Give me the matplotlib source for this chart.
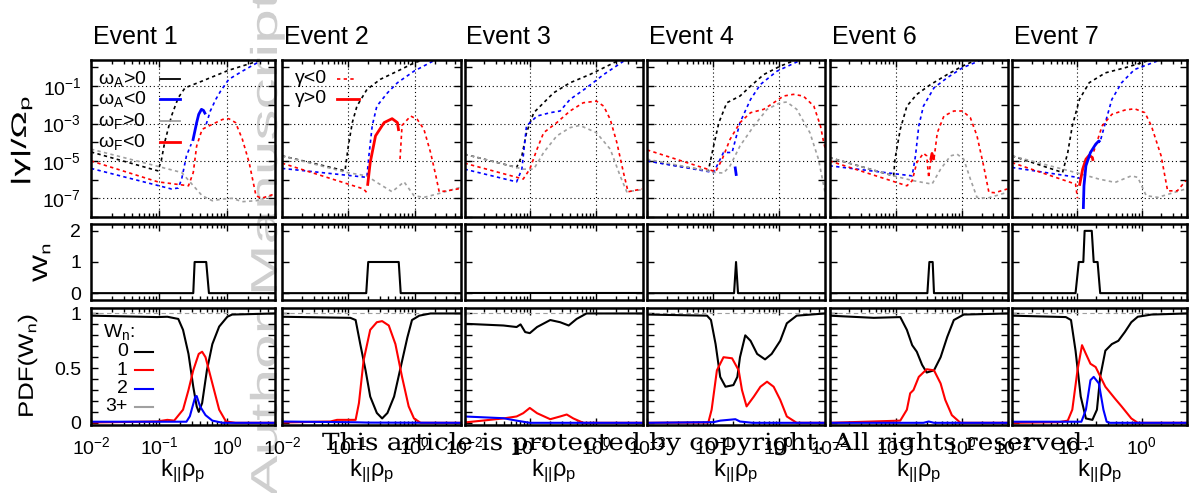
import numpy as np
import matplotlib.pyplot as plt
from matplotlib.ticker import FixedLocator, FuncFormatter, NullFormatter, LogLocator, MultipleLocator
from matplotlib.transforms import Affine2D
from matplotlib.patheffects import AbstractPathEffect

plt.rcParams['font.family'] = ['Liberation Sans', 'DejaVu Sans']
plt.rcParams['mathtext.fontset'] = 'custom'
plt.rcParams['mathtext.rm'] = 'Liberation Sans'
plt.rcParams['mathtext.it'] = 'Liberation Sans'
plt.rcParams['mathtext.default'] = 'regular'

titles = ['Event 1', 'Event 2', 'Event 3', 'Event 4', 'Event 6', 'Event 7']

# |gamma|/Omega_p, pieces of (log10 k rho, log10 |gamma|)
# black: omega_A>0, blue: omega_A<0, gray: omega_F>0, red: omega_F<0 ; grow_* = gamma>0
e1_black = [([-2, -1.02, -0.97, -0.92, -0.82, -0.72, -0.62, -0.37, 0.02, 0.52],
             [-4.52, -5.53, -5.0, -4.02, -2.6, -1.62, -1.09, -0.73, -0.15, 0.42])]
e1_blue = [([-2, -0.82, -0.72, -0.67, -0.6, -0.53], [-5.4, -6.5, -6.45, -5.97, -4.73, -4.1]),
           ([-0.31, -0.25, -0.17, -0.1, 0.02, 0.22, 0.52], [-3.04, -2.33, -1.71, -1.27, -0.64, -0.2, 0.42])]
e1_gray = [([-2, -0.67, -0.52, -0.37, -0.22, -0.07, 0.07, 0.22, 0.42, 0.62, 0.75],
            [-4.37, -5.62, -6.24, -6.86, -7.13, -7.04, -7.0, -7.18, -7.13, -6.9, -6.8])]
e1_red = [([-2, -1.02, -0.57, -0.5, -0.45, -0.37, -0.22, -0.07, 0.02, 0.12, 0.22, 0.32, 0.42, 0.5, 0.75],
           [-5.0, -6.12, -6.33, -5.62, -4.2, -3.31, -3.04, -2.78, -2.74, -2.95, -3.84, -5.09, -6.86, -7.0, -6.7])]
e1_grow_blue = [([-0.507, -0.45, -0.42, -0.38, -0.35, -0.32], [-3.93, -2.95, -2.51, -2.24, -2.3, -2.51])]
e1_grow_red = []

e2_black = [([-2, -1.05, -1.0, -0.94, -0.87, -0.72, -0.52, -0.26, -0.01, 0.14],
             [-4.73, -5.53, -4.2, -2.95, -2.07, -1.18, -0.64, -0.2, 0.24, 0.42])]
e2_blue = [([-2, -0.72, -0.69, -0.64, -0.57, -0.41, -0.26, -0.01, 0.32],
            [-5.4, -5.88, -4.73, -3.13, -2.07, -1.36, -0.82, -0.2, 0.42])]
e2_gray = [([-2, -1.02, -0.72, -0.57, -0.34, -0.16, -0.01, 0.14, 0.34, 0.7],
            [-4.73, -5.62, -5.8, -6.15, -6.65, -6.12, -6.86, -6.95, -6.77, -6.4])]
e2_red = [([-2, -0.77, -0.72], [-5.12, -6.5, -6.7]),
          ([-0.22, -0.19, -0.06, 0.04, 0.14, 0.24, 0.32, 0.37, 0.49, 0.7],
           [-4.9, -3.1, -2.6, -2.78, -3.31, -4.55, -5.8, -6.65, -6.6, -6.47])]
e2_grow_blue = []
e2_grow_red = [([-0.71, -0.67, -0.59, -0.46, -0.34, -0.26, -0.24], [-6.33, -5.09, -3.66, -2.95, -2.74, -2.95, -3.4])]

e3_black = [([-2, -1.21, -1.13, -1.06, -0.95, -0.8, -0.65, -0.4, -0.1, 0.11, 0.31],
             [-4.64, -5.35, -4.73, -3.49, -2.42, -1.89, -1.36, -0.82, -0.38, -0.02, 0.33])]
e3_blue = [([-2, -1.21, -1.13, -1.06, -0.9, -0.7, -0.55, -0.4, -0.15, 0.11, 0.41],
            [-5.44, -6.12, -5.44, -3.13, -2.6, -2.42, -2.33, -1.71, -1.09, -0.38, 0.33])]
e3_gray = [([-2, -1.11, -0.95, -0.8, -0.6, -0.4, -0.25, 0, 0.21, 0.36, 0.46, 0.69],
            [-4.64, -5.44, -5.44, -4.55, -3.66, -3.22, -3.1, -3.49, -4.37, -5.8, -6.65, -6.54])]
e3_red = [([-2, -1.11, -1.01, -0.9, -0.8, -0.6, -0.4, -0.2, 0, 0.11, 0.21, 0.31, 0.41, 0.48, 0.69],
           [-5.12, -5.97, -5.44, -4.37, -3.49, -2.95, -2.33, -1.89, -1.8, -2.07, -2.78, -4.02, -5.62, -6.65, -6.5])]
e3_grow_blue = []
e3_grow_red = []

e4_black = [([-2, -1.07, -0.99, -0.91, -0.79, -0.59, -0.43, -0.23, 0.02, 0.27],
             [-5.0, -5.53, -4.2, -2.95, -1.89, -1.53, -1.0, -0.38, 0.07, 0.42])]
e4_blue = [([-2, -0.99, -0.84, -0.71, -0.59, -0.43, -0.28, -0.03, 0.35],
            [-5.0, -5.62, -4.55, -4.55, -2.95, -1.71, -0.91, -0.2, 0.42])]
e4_gray = [([-2, -0.96, -0.84, -0.74, -0.59, -0.38, -0.18, 0.02, 0.12, 0.27, 0.47, 0.6, 0.68, 0.7],
            [-4.91, -5.62, -5.65, -5.26, -4.2, -3.13, -2.24, -1.89, -1.85, -2.24, -3.49, -4.91, -6.33, -6.7])]
e4_red = [([-2, -0.96, -0.86, -0.74, -0.59, -0.43, -0.23, -0.08, 0.07, 0.22, 0.37, 0.53, 0.63, 0.68, 0.7],
           [-4.41, -5.58, -4.91, -3.84, -2.95, -2.42, -2.24, -1.89, -1.53, -1.44, -1.53, -2.07, -3.13, -4.02, -4.3])]
e4_grow_blue = [([-0.665, -0.645], [-5.3, -5.8])]
e4_grow_red = []

e6_black = [([-2, -1.03, -1.01, -0.93, -0.83, -0.68, -0.47, -0.22, 0.01, 0.23],
             [-4.82, -5.8, -4.91, -3.31, -2.07, -1.44, -0.91, -0.38, 0.07, 0.42])]
e6_blue = [([-2, -0.75, -0.7, -0.65, -0.58, -0.42, -0.22, 0.01, 0.31],
            [-5.26, -5.8, -4.73, -3.13, -2.07, -1.09, -0.55, -0.02, 0.42])]
e6_gray = [([-2, -1.03, -0.73, -0.45, -0.32, -0.17, -0.07, 0.03, 0.13, 0.23, 0.38, 0.69],
            [-4.82, -5.8, -6.06, -6.24, -5.44, -4.73, -4.64, -4.91, -5.97, -6.95, -7.0, -6.68])]
e6_red = [([-2, -0.83, -0.75, -0.68, -0.58, -0.53, -0.5, -0.47, -0.42, -0.37, -0.27, -0.12, 0.01, 0.13, 0.23, 0.33, 0.41, 0.5, 0.69],
           [-5.0, -6.33, -6.06, -5.09, -4.59, -4.73, -5.9, -5.0, -4.9, -3.49, -2.6, -2.33, -2.33, -2.69, -3.66, -5.26, -6.68, -6.7, -6.5])]
e6_grow_blue = []
e6_grow_red = [([-0.47, -0.45, -0.42], [-4.95, -4.6, -4.95])]

e7_black = [([-2, -1.22, -1.14, -1.07, -0.96, -0.81, -0.56, -0.26, -0.01, 0.15],
             [-4.73, -5.62, -4.55, -3.13, -1.71, -0.82, -0.29, -0.02, 0.24, 0.42])]
e7_blue = [([-2, -0.99, -0.92], [-5.35, -5.88, -6.0]),
           ([-0.63, -0.56, -0.46, -0.31, -0.11, 0.3], [-3.84, -2.95, -1.71, -0.82, -0.11, 0.42])]
e7_gray = [([-2, -1.02, -0.66, -0.41, -0.16, -0.06, 0.07, 0.25, 0.68],
            [-4.73, -5.62, -5.97, -6.15, -5.8, -5.88, -6.86, -6.95, -6.5])]
e7_red = [([-2, -1.02, -0.99], [-5.09, -6.24, -7.0]),
          ([-0.74, -0.71, -0.61, -0.46, -0.26, -0.11, 0.05, 0.15, 0.3, 0.4, 0.55, 0.68],
           [-4.5, -4.2, -3.13, -2.51, -2.28, -2.21, -2.42, -3.13, -4.73, -6.6, -6.6, -6.06])]
e7_grow_blue = [([-0.9, -0.89, -0.86, -0.79, -0.71, -0.66, -0.64], [-7.57, -6.33, -5.26, -4.55, -4.11, -3.93, -4.0])]
e7_grow_red = [([-0.96, -0.91, -0.86, -0.81, -0.76, -0.75], [-6.33, -5.44, -4.91, -4.7, -4.82, -5.0])]

# W_n against log10 k
e1_wn = ([-2, -0.5, -0.48, -0.31, -0.27, 0.7], [0, 0, 1, 1, 0, 0])
e2_wn = ([-2, -0.73, -0.70, -0.24, -0.21, 0.7], [0, 0, 1, 1, 0, 0])
e3_wn = ([-2, 0.7], [0, 0])
e4_wn = ([-2, -0.68, -0.65, -0.62, 0.7], [0, 0, 1, 0, 0])
e6_wn = ([-2, -0.52, -0.49, -0.44, -0.42, 0.7], [0, 0, 1, 1, 0, 0])
e7_wn = ([-2, -1.02, -0.97, -0.90, -0.88, -0.77, -0.74, -0.68, -0.64, 0.7], [0, 0, 1, 1, 2, 2, 1, 1, 0, 0])

# PDF(W_n) for W_n = 0, 1, 2 against log10 k
e1_p0 = ([-2, -1.03, -0.88, -0.72, -0.65, -0.57, -0.5, -0.45, -0.42, -0.37, -0.3, -0.22, -0.12, 0, 0.07, 0.7],
         [0.98, 0.967, 0.97, 0.95, 0.85, 0.63, 0.33, 0.15, 0.10, 0.18, 0.48, 0.72, 0.88, 0.97, 0.99, 1.0])
e1_p1 = ([-2, -1.03, -0.88, -0.78, -0.65, -0.57, -0.5, -0.42, -0.37, -0.32, -0.22, -0.12, -0.02, 0.12, 0.7],
         [0.003, 0.012, 0.027, 0.02, 0.12, 0.30, 0.48, 0.63, 0.65, 0.60, 0.36, 0.12, 0.012, 0, 0])
e1_p2 = ([-2, -0.6, -0.55, -0.47, -0.45, -0.4, -0.32, -0.22, -0.07, 0.7],
         [0.01, 0.01, 0.06, 0.24, 0.245, 0.15, 0.07, 0.02, 0.0, 0.0])

e2_p0 = ([-2, -0.97, -0.89, -0.82, -0.74, -0.67, -0.57, -0.49, -0.41, -0.31, -0.21, -0.11, -0.04, 0.07, 0.24, 0.7],
         [0.97, 0.96, 0.94, 0.72, 0.48, 0.24, 0.09, 0.04, 0.09, 0.24, 0.51, 0.78, 0.94, 0.98, 1.0, 1.0])
e2_p1 = ([-2, -1.27, -1.17, -0.89, -0.84, -0.77, -0.67, -0.57, -0.49, -0.39, -0.29, -0.19, -0.09, -0.01, 0.09, 0.7],
         [0.003, 0.012, 0.027, 0.027, 0.18, 0.57, 0.85, 0.92, 0.93, 0.89, 0.72, 0.42, 0.15, 0.04, 0.0, 0.0])
e2_p2 = ([-2, -0.9, -0.7, 0.7], [0.012, 0.005, 0.002, 0.0])

e3_p0 = ([-2, -1.41, -1.21, -1.15, -1.08, -1.01, -0.9, -0.7, -0.55, -0.42, -0.3, -0.15, 0.7],
         [0.906, 0.89, 0.876, 0.9, 0.83, 0.82, 0.876, 0.94, 0.92, 0.89, 0.95, 1.0, 1.0])
e3_p1 = ([-2, -1.41, -1.21, -1.11, -1.01, -0.9, -0.7, -0.55, -0.45, -0.35, -0.2, 0.7],
         [0.003, 0.04, 0.058, 0.088, 0.136, 0.088, 0.033, 0.058, 0.076, 0.04, 0.0, 0.0])
e3_p2 = ([-2, -1.41, -1.21, -1.11, -1.01, 0.7], [0.058, 0.042, 0.02, 0.01, 0.0, 0.0])

e4_p0 = ([-2, -1.09, -1.03, -0.96, -0.89, -0.81, -0.69, -0.63, -0.59, -0.51, -0.43, -0.33, -0.21, -0.11, 0.02, 0.12, 0.27, 0.7],
         [0.99, 0.98, 0.94, 0.72, 0.42, 0.33, 0.345, 0.42, 0.60, 0.80, 0.75, 0.63, 0.58, 0.63, 0.75, 0.91, 0.98, 1.0])
e4_p1 = ([-2, -1.07, -1.02, -0.94, -0.84, -0.71, -0.61, -0.56, -0.49, -0.38, -0.28, -0.18, -0.08, 0.02, 0.12, 0.27, 0.7],
         [0.0, 0.003, 0.12, 0.48, 0.60, 0.59, 0.48, 0.30, 0.15, 0.24, 0.33, 0.376, 0.33, 0.21, 0.058, 0.0, 0.0])
e4_p2 = ([-2, -0.99, -0.89, -0.66, -0.59, -0.4, 0.7], [0.0, 0.006, 0.02, 0.033, 0.012, 0.0, 0.0])

e6_p0 = ([-2, -1.33, -0.93, -0.83, -0.75, -0.68, -0.6, -0.53, -0.42, -0.32, -0.22, -0.12, 0.03, 0.7],
         [0.98, 0.96, 0.967, 0.85, 0.71, 0.65, 0.53, 0.46, 0.48, 0.60, 0.785, 0.94, 0.99, 1.0])
e6_p1 = ([-2, -1.35, -0.93, -0.83, -0.78, -0.73, -0.65, -0.53, -0.42, -0.32, -0.25, -0.15, -0.02, 0.7],
         [0.0, 0.012, 0.02, 0.12, 0.27, 0.30, 0.42, 0.49, 0.48, 0.36, 0.21, 0.07, 0.0, 0.0])
e6_p2 = ([-2, -0.58, -0.5, -0.42, 0.7], [0.0, 0.0, 0.012, 0.0, 0.0])

e7_p0 = ([-2, -1.17, -1.09, -1.02, -0.94, -0.86, -0.76, -0.69, -0.64, -0.56, -0.46, -0.36, -0.26, -0.16, -0.06, 0.15, 0.7],
         [0.98, 0.967, 0.94, 0.66, 0.24, 0.04, 0.027, 0.12, 0.42, 0.66, 0.72, 0.75, 0.83, 0.92, 0.97, 0.99, 1.0])
e7_p1 = ([-2, -1.27, -1.14, -1.07, -0.99, -0.92, -0.86, -0.79, -0.71, -0.66, -0.56, -0.41, -0.31, -0.16, -0.06, 0.7],
         [0.0, 0.006, 0.02, 0.12, 0.48, 0.71, 0.63, 0.54, 0.51, 0.45, 0.33, 0.22, 0.15, 0.04, 0.0, 0.0])
e7_p2 = ([-2, -0.93, -0.86, -0.79, -0.74, -0.66, -0.59, -0.54, -0.49, 0.7],
         [0.01, 0.01, 0.12, 0.39, 0.42, 0.36, 0.12, 0.01, 0.0, 0.0])

gamma_sets = [
    (e1_black, e1_blue, e1_gray, e1_red, e1_grow_blue, e1_grow_red),
    (e2_black, e2_blue, e2_gray, e2_red, e2_grow_blue, e2_grow_red),
    (e3_black, e3_blue, e3_gray, e3_red, e3_grow_blue, e3_grow_red),
    (e4_black, e4_blue, e4_gray, e4_red, e4_grow_blue, e4_grow_red),
    (e6_black, e6_blue, e6_gray, e6_red, e6_grow_blue, e6_grow_red),
    (e7_black, e7_blue, e7_gray, e7_red, e7_grow_blue, e7_grow_red),
]
wn_sets = [e1_wn, e2_wn, e3_wn, e4_wn, e6_wn, e7_wn]
pdf_sets = [(e1_p0, e1_p1, e1_p2), (e2_p0, e2_p1, e2_p2), (e3_p0, e3_p1, e3_p2),
            (e4_p0, e4_p1, e4_p2), (e6_p0, e6_p1, e6_p2), (e7_p0, e7_p1, e7_p2)]

BLUE = '#0000ff'
RED = '#ff0000'
GRAY = '#a0a0a0'
DASH = (0, (2, 2))


class Stretch(AbstractPathEffect):
    # stretch glyphs along the reading direction
    def __init__(self, sx):
        super().__init__()
        self.sx = sx

    def draw_path(self, renderer, gc, tpath, affine, rgbFace=None):
        renderer.draw_path(gc, tpath, Affine2D().scale(self.sx, 1.0) + affine, rgbFace)


def lg(a):
    return 10.0 ** np.asarray(a, dtype=float)


W, H = 1196, 493
fig = plt.figure(figsize=(W / 100, H / 100), dpi=100)
fig.patch.set_facecolor('white')
rend = fig.canvas.get_renderer()

col_l = [91, 282, 464.5, 647, 829.5, 1012]
col_r = [275, 461, 642.5, 825, 1008, 1187]
rows = [(60, 217), (224, 300), (308, 425)]


def add_ax(i, r):
    t, b = rows[r]
    return fig.add_axes([col_l[i] / W, 1 - b / H, (col_r[i] - col_l[i]) / W, (b - t) / H])


def style(ax, bottom_labels):
    ax.set_xscale('log')
    ax.set_xlim(0.01, 5)
    ax.set_facecolor('none')
    for s in ax.spines.values():
        s.set_linewidth(1.8)
    ax.tick_params(which='both', direction='in', top=True, right=True, width=1.0, labelsize=14)
    ax.tick_params(which='major', length=5)
    ax.tick_params(which='minor', length=3)
    ax.tick_params(axis='y', which='both', pad=7)
    ax.tick_params(axis='x', which='both', pad=8)
    ax.xaxis.set_major_locator(FixedLocator([0.01, 0.1, 1]))
    ax.xaxis.set_minor_locator(LogLocator(base=10, subs=np.arange(2, 10)))
    ax.xaxis.set_minor_formatter(NullFormatter())
    if bottom_labels:
        ax.xaxis.set_major_formatter(FuncFormatter(lambda v, p: '$10^{%d}$' % round(np.log10(v))))
    else:
        ax.tick_params(axis='x', labelbottom=False)


def stretched(x, y, s, length, rot=0, **kw):
    t = fig.text(x / W, 1 - y / H, s, rotation=rot, rotation_mode='anchor',
                 ha='left', va='baseline', **kw)
    ext = t.get_window_extent(rend)
    cur = ext.height if rot else ext.width
    t.set_path_effects([Stretch(length / cur)])
    return t


for i in range(6):
    black, blue, gray, red, gblue, gred = gamma_sets[i]

    # growth rate panel
    ax = add_ax(i, 0)
    style(ax, False)
    ax.set_yscale('log')
    ax.set_ylim(1e-8, 2.5)
    ax.yaxis.set_major_locator(FixedLocator([1e-7, 1e-5, 1e-3, 1e-1]))
    ax.yaxis.set_minor_locator(FixedLocator([1e-8, 1e-6, 1e-4, 1e-2, 1]))
    ax.yaxis.set_minor_formatter(NullFormatter())
    ax.tick_params(axis='y', which='minor', length=5)
    if i == 0:
        ax.yaxis.set_major_formatter(FuncFormatter(lambda v, p: '$10^{%d}$' % round(np.log10(v))))
    else:
        ax.tick_params(axis='y', labelleft=False)
    ax.grid(True, which='major', color='k', lw=0.8, ls=(0, (1, 2.5)))
    for segs, c in [(black, 'k'), (blue, BLUE), (gray, GRAY), (red, RED)]:
        for kx, gy in segs:
            ax.plot(lg(kx), lg(gy), color=c, lw=1.2, ls=DASH)
    for segs, c in [(gred, RED), (gblue, BLUE)]:
        for kx, gy in segs:
            ax.plot(lg(kx), lg(gy), color=c, lw=2.0, solid_capstyle='butt')

    # W_n panel
    ax = add_ax(i, 1)
    style(ax, False)
    ax.set_ylim(-0.22, 2.22)
    ax.yaxis.set_major_locator(FixedLocator([0, 1, 2]))
    ax.tick_params(axis='y', which='major', length=5)
    if i != 0:
        ax.tick_params(axis='y', labelleft=False)
    kx, wn = wn_sets[i]
    ax.plot(lg(kx), wn, color='k', lw=1.5)

    # PDF panel
    ax = add_ax(i, 2)
    style(ax, True)
    ax.set_ylim(-0.02, 1.05)
    ax.yaxis.set_major_locator(FixedLocator([0, 0.5, 1]))
    ax.yaxis.set_minor_locator(MultipleLocator(0.1))
    ax.tick_params(axis='y', which='minor', length=5)
    ax.yaxis.set_major_formatter(FuncFormatter(lambda v, p: '%g' % v))
    if i != 0:
        ax.tick_params(axis='y', labelleft=False)
    ax.axhline(1.0, color=GRAY, lw=0.8, ls=(0, (4, 3)))
    p0, p1, p2 = pdf_sets[i]
    ax.plot(lg(p0[0]), p0[1], color='k', lw=1.5)
    ax.plot(lg(p1[0]), p1[1], color=RED, lw=1.5)
    ax.plot(lg(p2[0]), p2[1], color=BLUE, lw=1.5)

    fig.text((col_l[i] + 2) / W, 1 - 44 / H, titles[i], ha='left', va='baseline', fontsize=18)
    fig.text((col_l[i] + col_r[i]) / 2 / W, 1 - 476 / H, 'k$_{||}$ρ$_p$',
             ha='center', va='baseline', fontsize=17)

# legends drawn by hand, gnuplot style
ax0 = fig.axes[0]
for lab, c, lw, yy in [('ω$_A$>0', 'k', 1.3, 0.879), ('ω$_A$<0', BLUE, 2.0, 0.752),
                       ('ω$_F$>0', GRAY, 1.3, 0.611), ('ω$_F$<0', RED, 2.0, 0.478)]:
    ax0.text(0.30, yy, lab, transform=ax0.transAxes, ha='right', va='center', fontsize=14)
    ax0.plot([0.375, 0.484], [yy, yy], transform=ax0.transAxes, color=c, lw=lw)

ax1 = fig.axes[3]
ax1.text(0.25, 0.879, 'γ<0', transform=ax1.transAxes, ha='right', va='center', fontsize=14)
ax1.plot([0.31, 0.41], [0.879, 0.879], transform=ax1.transAxes, color=RED, lw=1.2, ls=DASH)
ax1.text(0.25, 0.752, 'γ>0', transform=ax1.transAxes, ha='right', va='center', fontsize=14)
ax1.plot([0.31, 0.43], [0.752, 0.752], transform=ax1.transAxes, color=RED, lw=2.0)

ax2 = fig.axes[2]
ax2.text(0.065, 0.795, 'W$_n$:', transform=ax2.transAxes, ha='left', va='center', fontsize=14)
for lab, c, yy in [('0', 'k', 0.624), ('1', RED, 0.47), ('2', BLUE, 0.308), ('3+', GRAY, 0.154)]:
    ax2.text(0.2, yy, lab, transform=ax2.transAxes, ha='right', va='center', fontsize=14)
    ax2.plot([0.24, 0.337], [yy, yy], transform=ax2.transAxes, color=c, lw=1.5)

# y-axis labels
stretched(26, 186, '|γ|/Ω$_p$', 92, rot=90, fontsize=15)
stretched(47, 282, 'W$_n$', 40, rot=90, fontsize=15)
stretched(33, 418, 'PDF(W$_n$)', 105, rot=90, fontsize=15)

# page watermark and notice
wm = stretched(277, 497, 'Author Manuscript', 505, rot=90, fontsize=27, color='#cfcfcf')
wm.set_zorder(-5)
stretched(322, 450, 'This article is protected by copyright. All rights reserved.', 770,
          fontsize=17, family='DejaVu Serif', color='k', zorder=10)

fig.savefig('out.png', dpi=100)
